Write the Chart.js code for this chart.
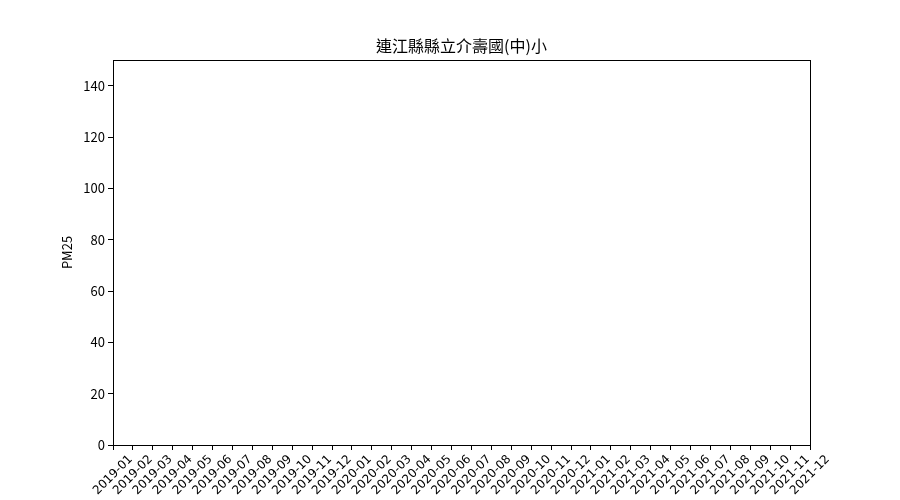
<!DOCTYPE html>
<html><head><meta charset="utf-8">
<script src="https://cdn.jsdelivr.net/npm/chart.js@4"></script>
<style>html,body{margin:0;padding:0;background:#fff}#wrap{width:900px;height:500px}</style>
</head><body><div id="wrap"><canvas id="c" width="900" height="500"></canvas></div>
<script>
const chartTitle = '連江縣縣立介壽國(中)小';
const yTitle = 'PM25';
const months = ['2019-01','2019-02','2019-03','2019-04','2019-05','2019-06','2019-07','2019-08','2019-09','2019-10','2019-11','2019-12',
'2020-01','2020-02','2020-03','2020-04','2020-05','2020-06','2020-07','2020-08','2020-09','2020-10','2020-11','2020-12',
'2021-01','2021-02','2021-03','2021-04','2021-05','2021-06','2021-07','2021-08','2021-09','2021-10','2021-11','2021-12'];
const pm25 = [];
const yTicks = [0,20,40,60,80,100,120,140];
const yMin = 0, yMax = 150;

const FONT = "'Noto Sans CJK TC', 'Lato', sans-serif";
const XFONT = "'DejaVu Sans', sans-serif";

const deco = {
  id:'deco',
  afterDraw(chart){
    const {ctx, chartArea:a} = chart;
    ctx.save();
    ctx.strokeStyle='#000'; ctx.lineWidth=1;
    ctx.strokeRect(Math.round(a.left)+0.5, Math.round(a.top)+0.5, Math.round(a.right-a.left), Math.round(a.bottom-a.top));
    ctx.fillStyle='#000';
    ctx.font = "16px " + FONT;
    ctx.textAlign='center'; ctx.textBaseline='middle';
    ctx.fillText(chartTitle, (a.left+a.right)/2, 46);
    ctx.save();
    ctx.font = "13px " + FONT;
    ctx.translate(67, (a.top+a.bottom)/2);
    ctx.rotate(-Math.PI/2);
    ctx.fillText(yTitle, 0, 0);
    ctx.restore();
    // x tick labels, rotated 45deg and centred on their ticks
    const xs = chart.scales.x;
    ctx.font = "12px " + XFONT;
    ctx.textAlign='center'; ctx.textBaseline='middle';
    xs.ticks.forEach((t,i)=>{
      const x = xs.getPixelForTick(i);
      ctx.save();
      ctx.translate(x, a.bottom + 30);
      ctx.rotate(-Math.PI/4);
      ctx.fillText(xs.getLabelForValue(t.value), 0, 0);
      ctx.restore();
    });
    ctx.restore();
  }
};

new Chart(document.getElementById('c'), {
  type:'line',
  data:{labels:months, datasets:[{label:yTitle, data:pm25, borderColor:'#1f77b4'}]},
  options:{
    responsive:false, animation:false,
    layout:{padding:{top:60, right:90, left:0, bottom:0}},
    plugins:{legend:{display:false}, title:{display:false}, tooltip:{enabled:false}},
    scales:{
      x:{
        type:'category', offset:false,
        grid:{drawOnChartArea:false, drawTicks:true, tickLength:5, color:'#000'},
        border:{display:true, color:'#000'},
        ticks:{display:false, autoSkip:false},
        afterFit(s){ s.height = 55; }
      },
      y:{
        min:yMin, max:yMax,
        afterBuildTicks(s){ s.ticks = yTicks.map(v=>({value:v})); },
        grid:{drawOnChartArea:false, drawTicks:true, tickLength:5, color:'#000'},
        border:{display:true, color:'#000'},
        ticks:{color:'#000', padding:3, font:{size:13, family:FONT}},
        afterFit(s){ s.width = 113; }
      }
    }
  },
  plugins:[deco]
});
</script></body></html>
